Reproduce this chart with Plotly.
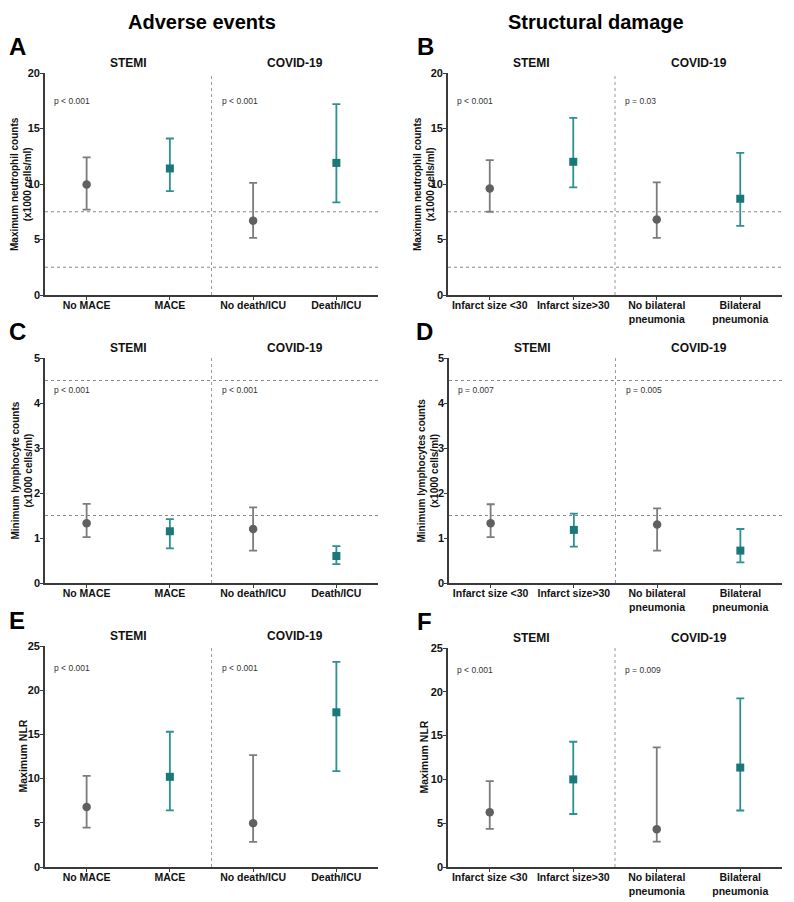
import plotly.graph_objects as go

OFF = 8  # page body margin
W, H = 794 - 2 * OFF, 902 - OFF

cats_adverse = ["No MACE", "MACE", "No death/ICU", "Death/ICU"]
cats_struct = ["Infarct size <30", "Infarct size>30", "No bilateral<br>pneumonia", "Bilateral<br>pneumonia"]

# Panel A: max neutrophils, adverse events
A_med = [9.95, 11.4, 6.7, 11.9]
A_lo = [7.7, 9.35, 5.15, 8.35]
A_hi = [12.4, 14.1, 10.1, 17.2]
# Panel B: max neutrophils, structural damage
B_med = [9.6, 12.0, 6.8, 8.67]
B_lo = [7.5, 9.7, 5.15, 6.23]
B_hi = [12.15, 15.95, 10.15, 12.8]
# Panel C: min lymphocytes, adverse events
C_med = [1.33, 1.15, 1.2, 0.6]
C_lo = [1.02, 0.77, 0.72, 0.42]
C_hi = [1.76, 1.42, 1.68, 0.82]
# Panel D: min lymphocytes, structural damage
D_med = [1.33, 1.18, 1.3, 0.72]
D_lo = [1.02, 0.81, 0.72, 0.46]
D_hi = [1.75, 1.54, 1.66, 1.2]
# Panel E: max NLR, adverse events
E_med = [6.8, 10.2, 4.95, 17.5]
E_lo = [4.45, 6.4, 2.85, 10.85]
E_hi = [10.3, 15.3, 12.65, 23.2]
# Panel F: max NLR, structural damage
F_med = [6.25, 10.0, 4.3, 11.35]
F_lo = [4.35, 6.05, 2.9, 6.45]
F_hi = [9.8, 14.3, 13.65, 19.25]

p_vals = {
    "A": ["p < 0.001", "p < 0.001"],
    "B": ["p < 0.001", "p = 0.03"],
    "C": ["p < 0.001", "p < 0.001"],
    "D": ["p = 0.007", "p = 0.005"],
    "E": ["p < 0.001", "p < 0.001"],
    "F": ["p < 0.001", "p = 0.009"],
}

ref_lines = {"A": [7.5, 2.5], "B": [7.5, 2.5], "C": [4.5, 1.5], "D": [4.5, 1.5], "E": [], "F": []}

y_titles = {
    "A": "Maximum neutrophil counts<br>(x1000 cells/ml)",
    "B": "Maximum neutrophil counts<br>(x1000 cells/ml)",
    "C": "Minimum lymphocyte counts<br>(x1000 cells/ml)",
    "D": "Minimum lymphocytes counts<br>(x1000 cells/ml)",
    "E": "Maximum NLR",
    "F": "Maximum NLR",
}

# pixel boxes in screen coords: left, right, top, bottom
boxes = {
    "A": (45, 378, 73, 295),
    "B": (448, 782, 73, 295),
    "C": (45, 378, 358, 583),
    "D": (449, 782, 358, 583),
    "E": (45, 378, 646, 867),
    "F": (448, 782, 648, 867),
}
yranges = {"A": 20, "B": 20, "C": 5, "D": 5, "E": 25, "F": 25}
ydtick = {"A": 5, "B": 5, "C": 1, "D": 1, "E": 5, "F": 5}
pypos = {"A": 17.5, "B": 17.5, "C": 4.3, "D": 4.3, "E": 22.5, "F": 22.5}
ytitle_x = {"A": 21, "B": 424, "C": 21, "D": 427, "E": 22, "F": 423}
letter_pos = {"A": (7, 47), "B": (415, 47), "C": (7, 332), "D": (414, 332), "E": (7, 620), "F": (415, 621)}

panels = {
    "A": (cats_adverse, A_med, A_lo, A_hi),
    "B": (cats_struct, B_med, B_lo, B_hi),
    "C": (cats_adverse, C_med, C_lo, C_hi),
    "D": (cats_struct, D_med, D_lo, D_hi),
    "E": (cats_adverse, E_med, E_lo, E_hi),
    "F": (cats_struct, F_med, F_lo, F_hi),
}

FONT = "Liberation Sans, Arial, sans-serif"
GRAY_M, GRAY_E = "#606060", "#7c7c7c"
TEAL_M, TEAL_E = "#1a7878", "#2f9090"
AX = "#3a3a3a"

fig = go.Figure()
shapes, annots = [], []

def px2x(p):
    return (p - OFF) / W

def px2y(p):
    return 1 - (p - OFF) / H

for i, key in enumerate(["A", "B", "C", "D", "E", "F"]):
    cats, med, lo, hi = panels[key]
    l, r, t, b = boxes[key]
    n = i + 1
    xa = "x" if n == 1 else f"x{n}"
    ya = "y" if n == 1 else f"y{n}"
    xs = list(range(len(cats)))
    for idxs, mc, ec, sym in [([0, 2], GRAY_M, GRAY_E, "circle"), ([1, 3], TEAL_M, TEAL_E, "square")]:
        fig.add_trace(go.Scatter(
            x=[xs[j] for j in idxs], y=[med[j] for j in idxs], mode="markers",
            marker=dict(color=mc, size=8.5 if sym == "circle" else 8, symbol=sym),
            error_y=dict(type="data", symmetric=False,
                         array=[hi[j] - med[j] for j in idxs],
                         arrayminus=[med[j] - lo[j] for j in idxs],
                         color=ec, thickness=1.8, width=4),
            xaxis=xa, yaxis=ya, showlegend=False, hoverinfo="skip"))
    xk = "xaxis" if n == 1 else f"xaxis{n}"
    yk = "yaxis" if n == 1 else f"yaxis{n}"
    fig.update_layout(**{
        xk: dict(domain=[px2x(l), px2x(r)], range=[-0.5, 3.5], tickvals=xs, ticktext=[f"<b>{c}</b>" for c in cats],
                 showline=True, linecolor=AX, linewidth=1.6, ticks="outside", ticklen=3, tickcolor=AX, tickwidth=1.4,
                 showgrid=False, zeroline=False, anchor=ya, fixedrange=True, automargin=False,
                 ticklabelstandoff=-3,
                 tickfont=dict(family=FONT, size=10.5, color="#111")),
        yk: dict(domain=[px2y(b), px2y(t)], range=[0, yranges[key]], dtick=ydtick[key], tick0=0,
                 tickprefix="<b>", ticksuffix="</b>",
                 showline=True, linecolor=AX, linewidth=1.6, ticks="outside", ticklen=3, tickcolor=AX, tickwidth=1.4,
                 showgrid=False, zeroline=False, anchor=xa, fixedrange=True, automargin=False,
                 ticklabelstandoff=-2,
                 tickfont=dict(family=FONT, size=11, color="#111")),
    })
    # divider
    shapes.append(dict(type="line", xref=xa, yref=f"{ya} domain", x0=1.5, x1=1.5, y0=0, y1=1,
                       line=dict(color="#9a9a9a", width=1, dash="dot")))
    for v in ref_lines[key]:
        shapes.append(dict(type="line", xref=f"{xa} domain", yref=ya, x0=0, x1=1, y0=v, y1=v,
                           line=dict(color="#8a8a8a", width=1, dash="dot")))
    # p-values
    for k, xp in enumerate([-0.42, 1.6]):
        annots.append(dict(x=xp, y=pypos[key], xref=xa, yref=ya, text=p_vals[key][k], showarrow=False,
                           xanchor="left", yanchor="middle", font=dict(family=FONT, size=8.5, color="#333")))
    # group headers
    for k, (xp, lab) in enumerate([(0.5, "STEMI"), (2.5, "COVID-19")]):
        annots.append(dict(x=xp, y=px2y(t - 1), xref=xa, yref="paper", text=f"<b>{lab}</b>", showarrow=False,
                           xanchor="center", yanchor="bottom", font=dict(family=FONT, size=12, color="#111")))
    # y titles
    fs = 10.5 if key in ("E", "F") else 10
    annots.append(dict(x=px2x(ytitle_x[key]), y=px2y((t + b) / 2), xref="paper", yref="paper",
                       text=f"<b>{y_titles[key]}</b>", textangle=-90, showarrow=False,
                       xanchor="center", yanchor="middle", font=dict(family=FONT, size=fs, color="#111")))
    # panel letters
    lx, ly = letter_pos[key]
    annots.append(dict(x=px2x(lx), y=px2y(ly), xref="paper", yref="paper", text=f"<b>{key}</b>",
                       showarrow=False, xanchor="left", yanchor="middle",
                       font=dict(family=FONT, size=24, color="#000")))

annots.append(dict(x=px2x(202), y=px2y(22), xref="paper", yref="paper", text="<b>Adverse events</b>",
                   showarrow=False, xanchor="center", yanchor="middle", font=dict(family=FONT, size=20, color="#000")))
annots.append(dict(x=px2x(596), y=px2y(22), xref="paper", yref="paper", text="<b>Structural damage</b>",
                   showarrow=False, xanchor="center", yanchor="middle", font=dict(family=FONT, size=20, color="#000")))

fig.update_layout(width=W, height=H, margin=dict(l=0, r=0, t=0, b=0, pad=0, autoexpand=False),
                  plot_bgcolor="white", paper_bgcolor="white", shapes=shapes, annotations=annots,
                  showlegend=False)

fig.write_html("out.html", config={"responsive": False})
